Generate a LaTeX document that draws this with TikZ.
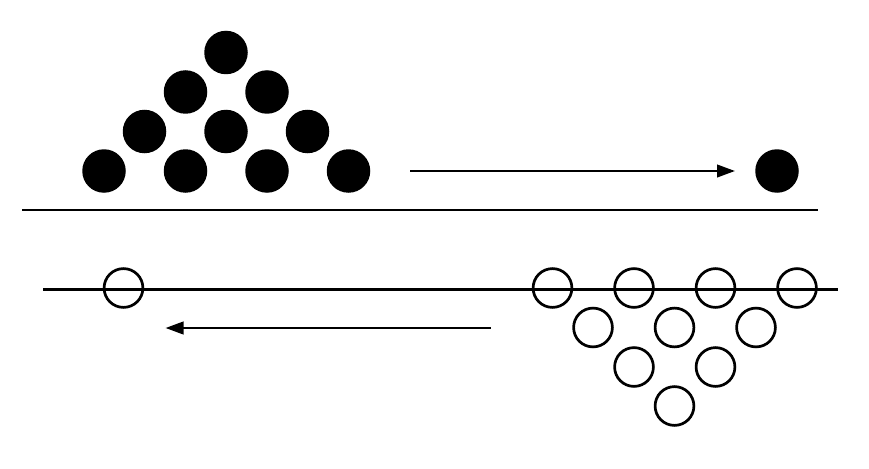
\documentclass[tikz,border=0pt]{standalone}
\usetikzlibrary{arrows.meta}
\begin{document}
\begin{tikzpicture}[x=1pt,y=-1pt,
  solidball/.style={circle,fill=black,draw=none,minimum size=43.5pt,inner sep=0pt},
  hollowball/.style={circle,draw=black,line width=2.7pt,minimum size=38.8pt,inner sep=0pt},
  baseline/.style={line width=2.8pt},
  moveto/.style={line width=2.5pt,-{Triangle[length=18pt,width=12.5pt]}}]
\useasboundingbox (0,0) rectangle (869,468);
% top pyramid of filled balls
\node[solidball] (f1) at (104,171) {};
\node[solidball] (f2) at (185.5,171) {};
\node[solidball] (f3) at (267,171) {};
\node[solidball] (f4) at (348.5,171) {};
\node[solidball] (f5) at (144.5,131.5) {};
\node[solidball] (f6) at (226,131.5) {};
\node[solidball] (f7) at (307.5,131.5) {};
\node[solidball] (f8) at (185.5,92) {};
\node[solidball] (f9) at (267,92) {};
\node[solidball] (f10) at (226,52.5) {};
\node[solidball] (f11) at (777,171) {};
% top arrow
\coordinate (a1s) at (410,171);
\coordinate (a1e) at (735,171);
\draw[moveto] (a1s) -- (a1e);
% top base line
\coordinate (l1s) at (22,210);
\coordinate (l1e) at (818,210);
\draw[baseline] (l1s) -- (l1e);
% bottom line
\coordinate (l2s) at (43,289.5);
\coordinate (l2e) at (838,289.5);
\draw[baseline] (l2s) -- (l2e);
% hollow balls
\node[hollowball] (h0) at (123.5,288) {};
\node[hollowball] (h1) at (552.5,288) {};
\node[hollowball] (h2) at (634,288) {};
\node[hollowball] (h3) at (715.5,288) {};
\node[hollowball] (h4) at (797,288) {};
\node[hollowball] (h5) at (593,327.5) {};
\node[hollowball] (h6) at (674.5,327.5) {};
\node[hollowball] (h7) at (756,327.5) {};
\node[hollowball] (h8) at (634,367) {};
\node[hollowball] (h9) at (715.5,367) {};
\node[hollowball] (h10) at (674.5,406) {};
% bottom arrow
\coordinate (a2s) at (490.5,328);
\coordinate (a2e) at (165.5,328);
\draw[moveto] (a2s) -- (a2e);
\end{tikzpicture}
\end{document}
